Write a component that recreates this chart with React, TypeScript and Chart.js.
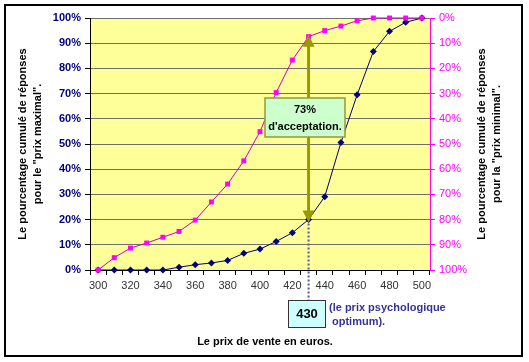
import React, { useEffect, useRef } from "react";
import { Chart, registerables } from "chart.js";

Chart.register(...registerables);

const FONT = "'Liberation Sans', Arial, sans-serif";

const prices = [300, 310, 320, 330, 340, 350, 360, 370, 380, 390, 400, 410, 420, 430, 440, 450, 460, 470, 480, 490, 500];
const xTickLabels = ["300", "320", "340", "360", "380", "400", "420", "440", "460", "480", "500"];
// cumulative % of answers for the "prix maximal" (left axis)
const maxPct = [0, 4.9, 8.7, 10.7, 13, 15.3, 19.8, 27, 34.1, 43.3, 54.9, 70.4, 83.3, 92.6, 95, 96.8, 98.9, 100, 100, 100, 100];
// cumulative % of answers for the "prix minimal" (right axis, reversed)
const minPct = [100, 100, 100, 100, 100, 98.9, 97.9, 97.2, 96.2, 93.4, 91.7, 88.7, 85.2, 80, 70.9, 49.4, 30.5, 13.3, 5.3, 1.7, 0];
const optimumPrice = "430";
const acceptText = ["73%", "d'acceptation."];
const optimumText = ["(le prix psychologique", "optimum)."];
const leftTitle = ["Le pourcentage cumulé de réponses", "pour le \"prix maximal\"."];
const rightTitle = ["Le pourcentage cumulé de réponses", "pour la \"prix minimal\"."];
const xTitle = "Le prix de vente en euros.";

export default function App() {
  const ref = useRef<HTMLCanvasElement>(null);

  useEffect(() => {
    if (!ref.current) return;
    const annot = {
      id: "annot",
      beforeDraw(chart: any) {
        const { ctx, chartArea: a } = chart;
        ctx.save();
        ctx.fillStyle = "#ffffff";
        ctx.fillRect(0, 0, chart.width, chart.height);
        ctx.strokeStyle = "#000000";
        ctx.lineWidth = 2;
        ctx.strokeRect(5, 5, 517, 351);
        ctx.fillStyle = "#ffff99";
        ctx.fillRect(a.left, a.top, a.right - a.left, a.bottom - a.top);
        ctx.restore();
      },
      afterDraw(chart: any) {
        const { ctx } = chart;
        const xs = chart.scales.x;
        const ys = chart.scales.y;
        const y1 = chart.scales.y1;
        const idx = prices.indexOf(Number(optimumPrice));
        const px = xs.getPixelForValue(idx);
        const yTop = ys.getPixelForValue(maxPct[idx]);
        const yBot = y1.getPixelForValue(minPct[idx]);
        ctx.save();
        // dotted line to the price box
        ctx.strokeStyle = "#5555aa";
        ctx.lineWidth = 2;
        ctx.setLineDash([2, 2]);
        ctx.beginPath();
        ctx.moveTo(px, yBot + 4);
        ctx.lineTo(px, 300);
        ctx.stroke();
        ctx.setLineDash([]);
        // double arrow
        const olive = "#999900";
        ctx.strokeStyle = olive;
        ctx.fillStyle = olive;
        ctx.lineWidth = 3;
        ctx.beginPath();
        ctx.moveTo(px, yTop + 8);
        ctx.lineTo(px, yBot - 8);
        ctx.stroke();
        ctx.beginPath();
        ctx.moveTo(px, yTop - 2);
        ctx.lineTo(px - 6, yTop + 10);
        ctx.lineTo(px + 6, yTop + 10);
        ctx.closePath();
        ctx.fill();
        ctx.beginPath();
        ctx.moveTo(px, yBot + 3);
        ctx.lineTo(px - 6, yBot - 9);
        ctx.lineTo(px + 6, yBot - 9);
        ctx.closePath();
        ctx.fill();
        // acceptance box
        ctx.fillStyle = "#ccffcc";
        ctx.fillRect(265, 98, 80, 39);
        ctx.strokeStyle = "#999933";
        ctx.lineWidth = 1.5;
        ctx.strokeRect(265, 98, 80, 39);
        ctx.fillStyle = "#000000";
        ctx.font = `bold 11px ${FONT}`;
        ctx.textAlign = "center";
        ctx.textBaseline = "middle";
        ctx.fillText(acceptText[0], 305, 110);
        ctx.fillText(acceptText[1], 305, 127);
        // price box
        ctx.fillStyle = "#ccffff";
        ctx.fillRect(288, 300, 37, 27);
        ctx.strokeStyle = "#333333";
        ctx.lineWidth = 1;
        ctx.strokeRect(288.5, 300.5, 37, 27);
        ctx.fillStyle = "#000000";
        ctx.font = `bold 13px ${FONT}`;
        ctx.fillText(optimumPrice, 307, 314);
        ctx.fillStyle = "#333399";
        ctx.font = `bold 11px ${FONT}`;
        ctx.textAlign = "left";
        ctx.fillText(optimumText[0], 329, 308);
        ctx.fillText(optimumText[1], 332, 322);
        // x title
        ctx.fillStyle = "#000000";
        ctx.textAlign = "center";
        ctx.font = `bold 11px ${FONT}`;
        ctx.fillText(xTitle, 265, 342);
        // y titles
        const cy = 144;
        ctx.save();
        ctx.translate(23, cy);
        ctx.rotate(-Math.PI / 2);
        ctx.fillText(leftTitle[0], 0, 0);
        ctx.fillText(leftTitle[1], 0, 15);
        ctx.restore();
        ctx.save();
        ctx.translate(482, cy);
        ctx.rotate(-Math.PI / 2);
        ctx.fillText(rightTitle[0], 0, 0);
        ctx.fillText(rightTitle[1], 0, 15);
        ctx.restore();
        ctx.restore();
      },
    };

    const chart = new Chart(ref.current, {
      type: "line",
      data: {
        labels: prices.map(String),
        datasets: [
          {
            label: "prix maximal",
            data: maxPct,
            yAxisID: "y",
            borderColor: "#cc00cc",
            backgroundColor: "#ff00ff",
            borderWidth: 1,
            pointStyle: "rect",
            pointRadius: 3.5,
            pointBorderWidth: 0,
            clip: false,
            tension: 0,
          },
          {
            label: "prix minimal",
            data: minPct,
            yAxisID: "y1",
            borderColor: "#000066",
            backgroundColor: "#000080",
            borderWidth: 1,
            pointStyle: "rectRot",
            pointRadius: 3.5,
            pointBorderWidth: 0,
            clip: false,
            tension: 0,
          },
        ],
      },
      options: {
        animation: false,
        responsive: false,
        layout: { padding: { top: 18, left: 0, right: 0, bottom: 0 } },
        plugins: { legend: { display: false }, tooltip: { enabled: false } },
        scales: {
          x: {
            type: "category",
            offset: true,
            afterFit: (s: any) => { s.height = 92; },
            grid: { offset: true, drawOnChartArea: false, tickLength: 5, color: "#000000" },
            border: { color: "#000000", width: 1 },
            ticks: {
              autoSkip: false,
              maxRotation: 0,
              padding: 4,
              color: "#333333",
              font: { family: FONT, size: 11 },
              callback: (_v: any, i: number) => (xTickLabels.includes(String(prices[i])) ? String(prices[i]) : ""),
            },
          },
          y: {
            position: "left",
            min: 0,
            max: 100,
            afterFit: (s: any) => { s.width = 90; },
            grid: { color: "#6f6f6f", tickColor: "#000000", tickLength: 5 },
            border: { color: "#000000", width: 1 },
            ticks: {
              stepSize: 10,
              padding: 4,
              color: "#000080",
              font: { family: FONT, size: 11, weight: "bold" },
              callback: (v: any) => v + "%",
            },
          },
          y1: {
            position: "right",
            reverse: true,
            min: 0,
            max: 100,
            afterFit: (s: any) => { s.width = 99; },
            grid: { drawOnChartArea: false, color: "#ff00ff", tickLength: 5 },
            border: { color: "#ff00ff", width: 1 },
            ticks: {
              stepSize: 10,
              padding: 4,
              color: "#ff00ff",
              font: { family: FONT, size: 11 },
              callback: (v: any) => v + "%",
            },
          },
        },
      },
      plugins: [annot],
    } as any);
    return () => chart.destroy();
  }, []);

  return (
    <div style={{ position: "absolute", left: 0, top: 0, width: 529, height: 362 }}>
      <canvas ref={ref} width={529} height={362} style={{ display: "block" }} />
    </div>
  );
}
